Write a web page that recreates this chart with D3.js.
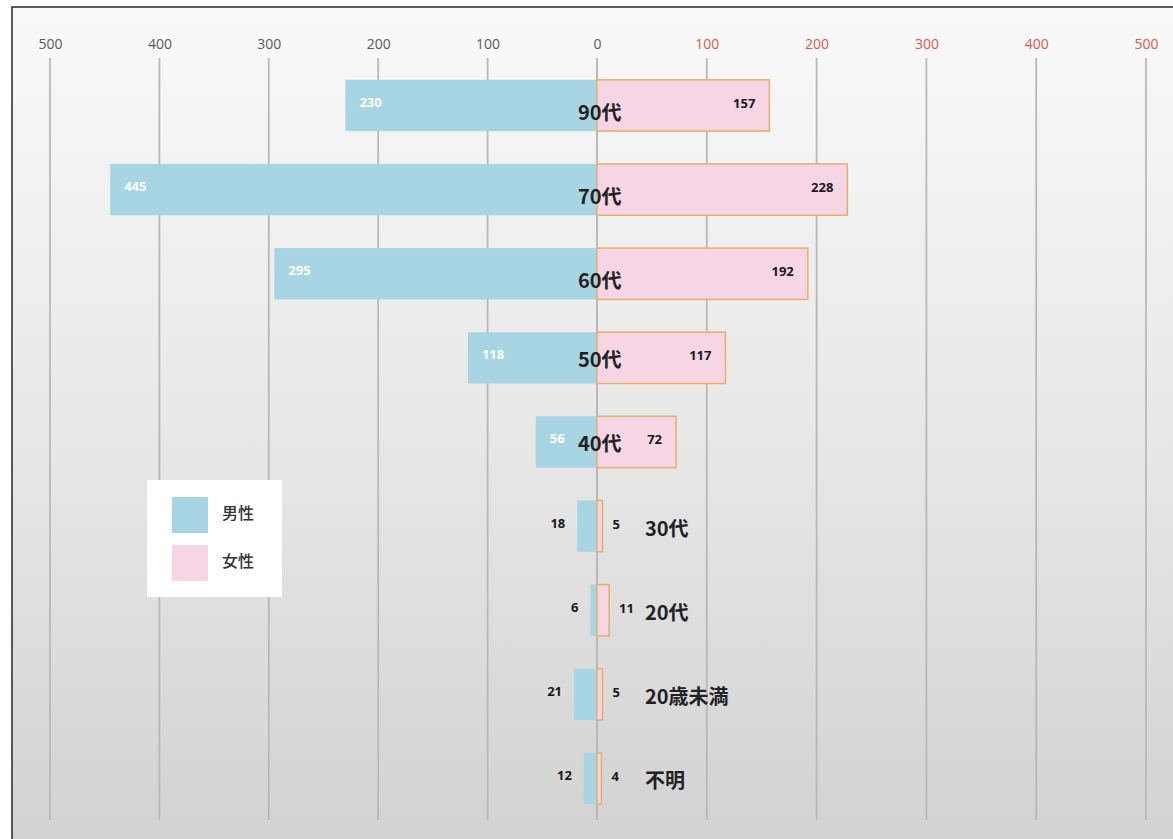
<!DOCTYPE html>
<html>
<head>
<meta charset="utf-8">
<script src="https://cdn.jsdelivr.net/npm/d3@7"></script>
<style>
  html, body { margin: 0; padding: 0; background: #fff; }
  svg { display: block; }
</style>
</head>
<body>
<svg id="chart" width="1173" height="839"></svg>
<script>
// Age groups, top to bottom
const categories = ["90代", "70代", "60代", "50代", "40代", "30代", "20代", "20歳未満", "不明"];
// Counts by sex
const male   = [230, 445, 295, 118, 56, 18, 6, 21, 12];
const female = [157, 228, 192, 117, 72, 5, 11, 5, 4];
// Axis ticks on each side of the centre line
const tickValues = [0, 100, 200, 300, 400, 500];
const seriesNames = ["男性", "女性"];

const W = 1173, H = 839;
const svg = d3.select("#chart");

const colors = { male: "#a7d5e3", female: "#f6d5e5", femaleStroke: "#e4b06c" };

// Background gradient inside the framed plot area
const defs = svg.append("defs");
const grad = defs.append("linearGradient").attr("id", "bg").attr("x1", 0).attr("y1", 0).attr("x2", 0).attr("y2", 1);
grad.append("stop").attr("offset", "0%").attr("stop-color", "#f9f9f9");
grad.append("stop").attr("offset", "50%").attr("stop-color", "#e8e8e8");
grad.append("stop").attr("offset", "100%").attr("stop-color", "#d2d2d2");

svg.append("rect").attr("x", 0).attr("y", 0).attr("width", W).attr("height", H).attr("fill", "#fff");
svg.append("rect").attr("x", 12).attr("y", 7).attr("width", W).attr("height", H)
  .attr("fill", "url(#bg)").attr("stroke", "#333").attr("stroke-width", 1.6);

// Scales: one for each half, sharing the centre at 0
const x0 = 597;
const xL = d3.scaleLinear().domain([0, 500]).range([x0, 50]);
const xR = d3.scaleLinear().domain([0, 500]).range([x0, 1146]);
const y = d3.scaleBand().domain(categories).range([63, 821]).paddingInner(0.39).paddingOuter(0.2);

// Vertical gridlines
const grid = svg.append("g");
const gridTop = 58, gridBottom = 820;
tickValues.forEach(v => {
  [xL(v), xR(v)].forEach(px => {
    grid.append("line").attr("x1", px).attr("x2", px).attr("y1", gridTop).attr("y2", gridBottom)
      .attr("stroke", "#b8b8b8").attr("stroke-width", 1.8);
  });
});

// Top axes
const axisFont = "'Open Sans', 'Liberation Sans', sans-serif";
const axL = svg.append("g").attr("transform", "translate(0,49)")
  .call(d3.axisTop(xL).tickValues(tickValues).tickSize(0).tickPadding(0));
const axR = svg.append("g").attr("transform", "translate(0,49)")
  .call(d3.axisTop(xR).tickValues(tickValues.filter(v => v > 0)).tickSize(0).tickPadding(0));
[axL, axR].forEach(a => {
  a.select(".domain").remove();
  a.selectAll("text").attr("font-family", axisFont).attr("font-size", 14);
});
axL.selectAll("text").attr("fill", "#5a5a5a");
axR.selectAll("text").attr("fill", "#e0574d");

// Bars
const rows = categories.map((c, i) => ({ cat: c, m: male[i], f: female[i] }));
const barG = svg.append("g");
barG.selectAll("rect.male").data(rows).join("rect").attr("class", "male")
  .attr("x", d => xL(d.m)).attr("y", d => y(d.cat))
  .attr("width", d => x0 - xL(d.m)).attr("height", y.bandwidth())
  .attr("fill", colors.male);
barG.selectAll("rect.female").data(rows).join("rect").attr("class", "female")
  .attr("x", x0).attr("y", d => y(d.cat))
  .attr("width", d => xR(d.f) - x0).attr("height", y.bandwidth())
  .attr("fill", colors.female).attr("stroke", colors.femaleStroke).attr("stroke-width", 1.5);

// Value labels
const numFont = "'Open Sans', 'Liberation Sans', sans-serif";
const cy = d => y(d.cat) + y.bandwidth() / 2;
const insideMin = 50;
svg.append("g").selectAll("text").data(rows).join("text")
  .attr("x", d => d.m >= insideMin ? xL(d.m) + 14 : xL(d.m) - 12)
  .attr("y", d => cy(d) - 2)
  .attr("text-anchor", d => d.m >= insideMin ? "start" : "end")
  .attr("dominant-baseline", "middle")
  .attr("font-family", numFont).attr("font-size", 13).attr("font-weight", 700)
  .attr("fill", d => d.m >= insideMin ? "#ffffff" : "#1a1a1a")
  .text(d => d.m);
svg.append("g").selectAll("text").data(rows).join("text")
  .attr("x", d => d.f >= insideMin ? xR(d.f) - 14 : xR(d.f) + 10)
  .attr("y", d => cy(d) - 1)
  .attr("text-anchor", d => d.f >= insideMin ? "end" : "start")
  .attr("dominant-baseline", "middle")
  .attr("font-family", numFont).attr("font-size", 13).attr("font-weight", 700)
  .attr("fill", "#1a1a1a")
  .text(d => d.f);

// Category labels beside the centre line
svg.append("g").selectAll("text").data(rows).join("text")
  .attr("x", d => d.f >= insideMin ? x0 - 19 : x0 + 48)
  .attr("y", d => cy(d) + (d.f >= 150 ? 9 : 4))
  .attr("dominant-baseline", "middle")
  .attr("font-family", "'Noto Sans CJK JP', sans-serif").attr("font-size", 20).attr("font-weight", 700)
  .attr("fill", "#222")
  .text(d => d.cat);

// Legend
const lg = svg.append("g");
lg.append("rect").attr("x", 147).attr("y", 480).attr("width", 135).attr("height", 117).attr("fill", "#fff");
const legendColors = [colors.male, colors.female];
seriesNames.forEach((name, i) => {
  lg.append("rect").attr("x", 172).attr("y", 497 + i * 48).attr("width", 36).attr("height", 36)
    .attr("fill", legendColors[i]);
  lg.append("text").attr("x", 222).attr("y", 515 + i * 48).attr("dominant-baseline", "middle")
    .attr("font-family", "'Noto Sans CJK JP', sans-serif").attr("font-size", 16).attr("font-weight", 500)
    .attr("fill", "#333").text(name);
});
</script>
</body>
</html>
